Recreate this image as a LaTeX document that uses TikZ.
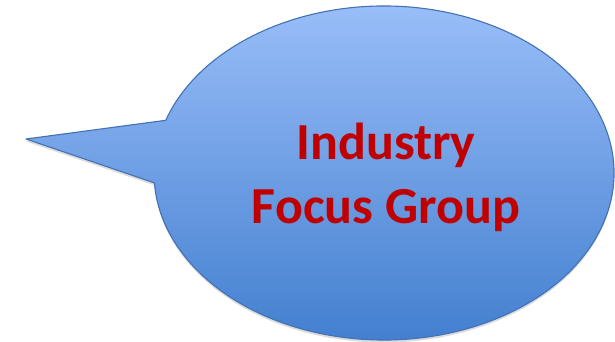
\documentclass[tikz,border=0pt]{standalone}
\usepackage{fontspec}
\setmainfont{Carlito}
\usepackage{tikz}
\usetikzlibrary{positioning,shadows}

\definecolor{bubbletop}{RGB}{158,193,251}
\definecolor{bubblebottom}{RGB}{62,124,205}
\definecolor{bubbleline}{RGB}{66,114,180}
\definecolor{labelred}{RGB}{192,0,0}

\begin{document}
\begin{tikzpicture}[x=1pt,y=-1pt]
			% Define styles
			\tikzset{bubble/.style={draw=bubbleline, line width=1.1pt, line join=round,
					top color=bubbletop, bottom color=bubblebottom,
					drop shadow={shadow xshift=0pt, shadow yshift=-2.5pt, fill=black!35, opacity=0.4}},
				label/.style={font=\bfseries\fontsize{52}{64}\selectfont, text=labelred, align=center}}
			
			\useasboundingbox (0,0) rectangle (615,342);
			
			% Speech bubble
			\coordinate (c) at (384,173);
			\coordinate (tip) at (26,139);
			\path (c) ++(198.4:230 and 167) coordinate (upper);
			\draw[bubble] (tip) -- (upper)
				arc[start angle=198.4, end angle=536.6, x radius=230, y radius=167] -- cycle;
			
			% Text
			\node[label] (title) at (386,177) {Industry\\Focus Group};
		\end{tikzpicture}
\end{document}
